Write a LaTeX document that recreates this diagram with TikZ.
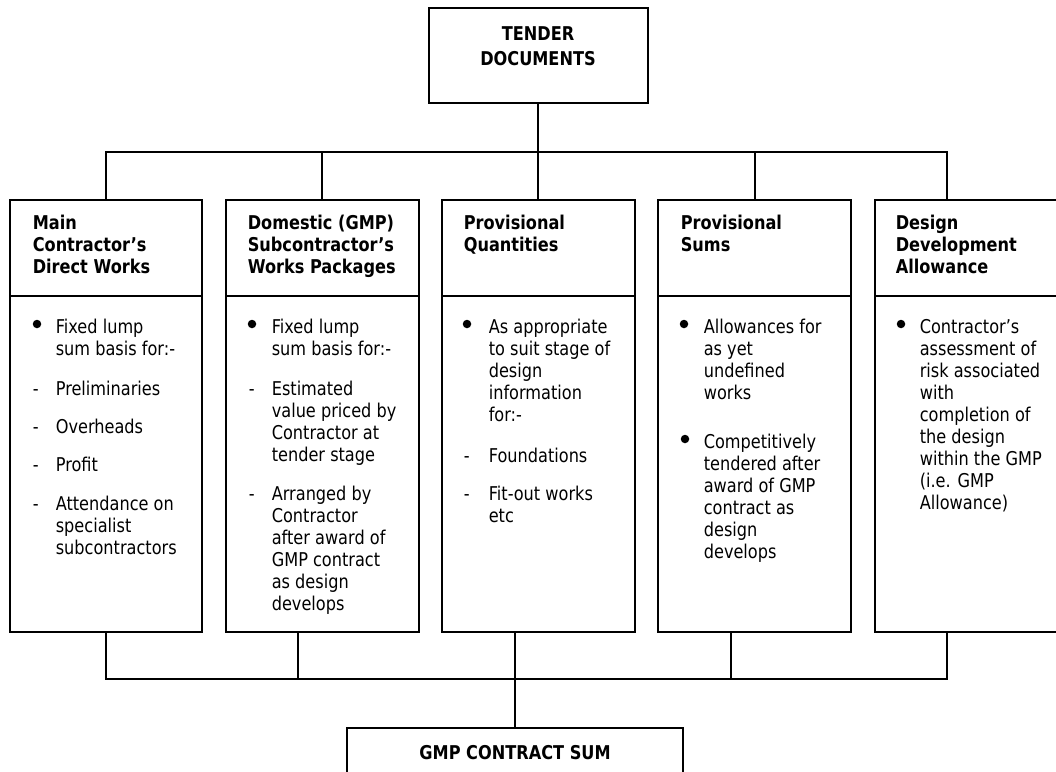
\documentclass[tikz,border=0pt]{standalone}
\usepackage{fontspec}
\setmainfont{DejaVu Sans}[FakeStretch=0.85]
\newcommand\bxfont{\fontsize{19}{22}\selectfont}
% one node per text line, 22pt apart
\newcommand\txtlines[5]{%
  \foreach \t [count=\k from 0] in {#5} {\node[#2, name=#1-\k] at (#3, #4+22*\k) {\t};}}
\tikzset{
  panel/.style={draw, rectangle, inner sep=0pt, outer sep=0pt, anchor=north west,
    minimum height=432pt, minimum width=#1},
  txt/.style={anchor=base west, inner sep=0pt, font=\bxfont},
  hdr/.style={txt, font=\bxfont\bfseries},
  ttl/.style={anchor=base, inner sep=0pt, font=\bxfont\bfseries},
  bul/.style={circle, fill, draw=none, inner sep=0pt, minimum size=8.5pt},
}
\begin{document}
\begin{tikzpicture}[x=1pt, y=-1pt, line width=1.6pt]
\useasboundingbox (0,0) rectangle (1056,771);
\clip (0,0) rectangle (1056,771);

% top and bottom boxes
\node[draw, inner sep=0pt, outer sep=0pt, anchor=north west, minimum width=219pt, minimum height=95pt] (tender) at (429,8) {};
\node[ttl, name=tender-l1] at (538,40) {TENDER};
\node[ttl, name=tender-l2] at (538,65) {DOCUMENTS};

\node[draw, inner sep=0pt, outer sep=0pt, anchor=north west, minimum width=336pt, minimum height=70pt] (gmp) at (347,728) {};
\node[ttl, name=gmp-l1] at (515,759) {GMP CONTRACT SUM};

% the five columns
\node[panel=192pt] (b1) at (10,200) {};
\node[panel=193pt] (b2) at (226,200) {};
\node[panel=193pt] (b3) at (442,200) {};
\node[panel=193pt] (b4) at (658,200) {};
\node[panel=195pt] (b5) at (875,200) {};

\coordinate (hd) at (0,296);
\foreach \b in {b1,b2,b3,b4,b5}
  \draw (\b.west |- hd) -- (\b.east |- hd);

% connectors from the tender documents
\coordinate (tb1) at (106,152);
\coordinate (tb2) at (322,152);
\coordinate (tbus) at (538,152);
\coordinate (tb4) at (755,152);
\coordinate (tb5) at (947,152);
\draw (tender.south -| tbus) -- (tbus);
\draw (b1.north -| tb1) -- (tb1) -- (tb5) -- (b5.north -| tb5);
\draw (b2.north -| tb2) -- (tb2);
\draw (b3.north -| tbus) -- (tbus);
\draw (b4.north -| tb4) -- (tb4);

% connectors into the contract sum
\coordinate (bb1) at (106,679);
\coordinate (bb2) at (298,679);
\coordinate (bbus) at (515,679);
\coordinate (bb4) at (731,679);
\coordinate (bb5) at (947,679);
\draw (b1.south -| bb1) -- (bb1) -- (bb5) -- (b5.south -| bb5);
\draw (b2.south -| bb2) -- (bb2);
\draw (b3.south -| bbus) -- (bbus) -- (gmp.north -| bbus);
\draw (b4.south -| bb4) -- (bb4);

% column 1
\txtlines{h1}{hdr}{32}{229}{Main,Contractor’s,Direct Works}
\node[bul] (p1a) at (37,324) {};
\txtlines{t1a}{txt}{55}{333}{Fixed lump,sum basis for:-}
\node[txt] (d1a) at (32,395) {-};
\txtlines{t1b}{txt}{55}{395}{Preliminaries}
\node[txt] (d1b) at (32,433) {-};
\txtlines{t1c}{txt}{55}{433}{Overheads}
\node[txt] (d1c) at (32,471) {-};
\txtlines{t1d}{txt}{55}{471}{Profit}
\node[txt] (d1d) at (32,510) {-};
\txtlines{t1e}{txt}{55}{510}{Attendance on,specialist,subcontractors}

% column 2
\txtlines{h2}{hdr}{247}{229}{{Domestic (GMP)},Subcontractor’s,Works Packages}
\node[bul] (p2a) at (252,324) {};
\txtlines{t2a}{txt}{271}{333}{Fixed lump,sum basis for:-}
\node[txt] (d2a) at (248,395) {-};
\txtlines{t2b}{txt}{271}{395}{Estimated,value priced by,Contractor at,tender stage}
\node[txt] (d2b) at (248,500) {-};
\txtlines{t2c}{txt}{271}{500}{Arranged by,Contractor,after award of,GMP contract,as design,develops}

% column 3
\txtlines{h3}{hdr}{463}{229}{Provisional,Quantities}
\node[bul] (p3a) at (467,324) {};
\txtlines{t3a}{txt}{488}{333}{As appropriate,to suit stage of,design,information,for:-}
\node[txt] (d3a) at (463,462) {-};
\txtlines{t3b}{txt}{488}{462}{Foundations}
\node[txt] (d3b) at (463,500) {-};
\txtlines{t3c}{txt}{488}{500}{Fit-out works,etc}

% column 4
\txtlines{h4}{hdr}{680}{229}{Provisional,Sums}
\node[bul] (p4a) at (684,324) {};
\txtlines{t4a}{txt}{703}{333}{Allowances for,as yet,undefined,works}
\node[bul] (p4b) at (685,439) {};
\txtlines{t4b}{txt}{703}{448}{Competitively,tendered after,award of GMP,contract as,design,develops}

% column 5
\txtlines{h5}{hdr}{895}{229}{Design,Development,Allowance}
\node[bul] (p5a) at (901,324) {};
\txtlines{t5a}{txt}{919}{333}{Contractor’s,assessment of,risk associated,with,completion of,the design,within the GMP,{(i.e. GMP},{Allowance)}}
\end{tikzpicture}
\end{document}
